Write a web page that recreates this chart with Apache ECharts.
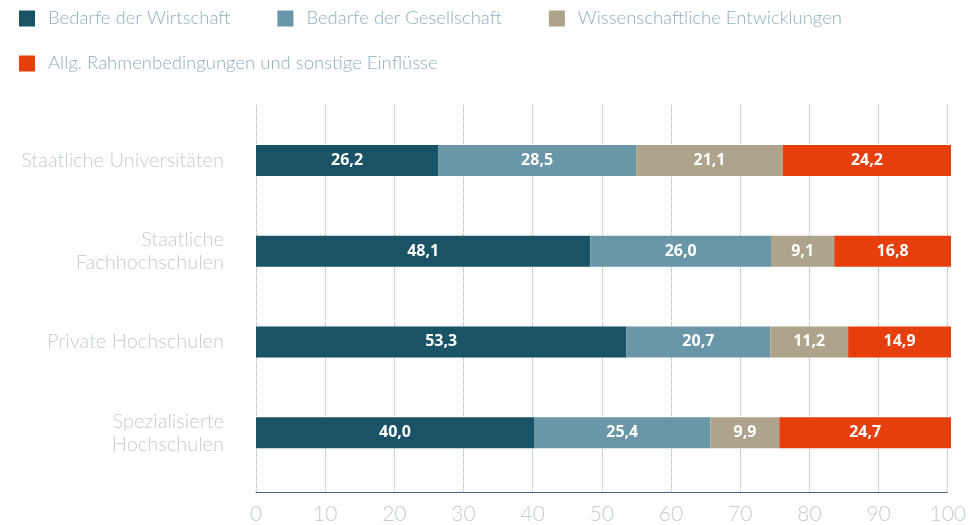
<!DOCTYPE html>
<html>
<head>
<meta charset="utf-8">
<script src="https://cdn.jsdelivr.net/npm/echarts@6/dist/echarts.min.js"></script>
<style>
    html, body { margin: 0; padding: 0; background: #fff; }
    #chart { width: 969px; height: 525px; }
</style>
</head>
<body>
<div id="chart"></div>
<script>
var categories = ['Staatliche Universitäten', 'Staatliche\nFachhochschulen', 'Private Hochschulen', 'Spezialisierte\nHochschulen'];
var seriesNames = ['Bedarfe der Wirtschaft', 'Bedarfe der Gesellschaft', 'Wissenschaftliche Entwicklungen', 'Allg. Rahmenbedingungen und sonstige Einflüsse'];
var wirtschaft = [26.2, 48.1, 53.3, 40.0];
var gesellschaft = [28.5, 26.0, 20.7, 25.4];
var wissenschaft = [21.1, 9.1, 11.2, 9.9];
var rahmen = [24.2, 16.8, 14.9, 24.7];
var xTicks = [0, 10, 20, 30, 40, 50, 60, 70, 80, 90, 100];
var colors = ['#1a5366', '#6997a7', '#ada48b', '#e63f0d'];

function fmt(v) {
    return v.toFixed(1).replace('.', ',');
}

function makeSeries(name, data, color) {
    return {
        name: name,
        type: 'bar',
        stack: 'total',
        xAxisIndex: 1,
        yAxisIndex: 1,
        barWidth: 31,
        itemStyle: { color: color },
        label: {
            show: true,
            position: 'inside',
            color: '#fff',
            fontFamily: 'Open Sans',
            fontWeight: 'bold',
            fontSize: 16,
            formatter: function (p) { return fmt(p.value); }
        },
        data: data
    };
}

function legendStyle(top, names) {
    return {
        left: 14,
        top: top,
        icon: 'rect',
        itemWidth: 16,
        itemHeight: 16,
        itemGap: 47,
        textStyle: { color: '#8fb0bd', fontSize: 18.5, fontFamily: 'Lato', fontWeight: 300, padding: [0, 0, 0, 8] },
        data: names
    };
}

var chart = echarts.init(document.getElementById('chart'));
var option = {
    animation: false,
    legend: [
        legendStyle(4, seriesNames.slice(0, 3)),
        legendStyle(49, seriesNames.slice(3))
    ],
    grid: [
        // grid for dotted gridlines and tick labels
        { left: 256, right: 18, top: 105, bottom: 32 },
        // grid for bars
        { left: 256, right: 18, top: 115, bottom: 47 }
    ],
    xAxis: [
        {
            gridIndex: 0,
            type: 'value',
            min: xTicks[0],
            max: xTicks[xTicks.length - 1],
            interval: 10,
            axisLine: { show: true, lineStyle: { color: '#3f6373', type: [1, 1], width: 1.2 } },
            axisTick: { show: false },
            axisLabel: { color: '#c3ccd2', fontSize: 21, fontFamily: 'Lato', fontWeight: 300, margin: 12 },
            splitLine: { show: true, lineStyle: { color: '#9fb2bf', type: 'dotted', width: 1 } }
        },
        {
            gridIndex: 1,
            type: 'value',
            min: 0,
            max: 100,
            show: false,
            splitLine: { show: false }
        }
    ],
    yAxis: [
        {
            gridIndex: 0,
            type: 'category',
            data: categories,
            show: false
        },
        {
            gridIndex: 1,
            type: 'category',
            inverse: true,
            data: categories,
            axisLine: { show: false },
            axisTick: { show: false },
            axisLabel: { color: '#c3ccd2', fontSize: 20, fontFamily: 'Lato', fontWeight: 300, margin: 32, lineHeight: 23, align: 'right' }
        }
    ],
    series: [
        makeSeries(seriesNames[0], wirtschaft, colors[0]),
        makeSeries(seriesNames[1], gesellschaft, colors[1]),
        makeSeries(seriesNames[2], wissenschaft, colors[2]),
        makeSeries(seriesNames[3], rahmen, colors[3])
    ]
};
chart.setOption(option);
</script>
</body>
</html>
